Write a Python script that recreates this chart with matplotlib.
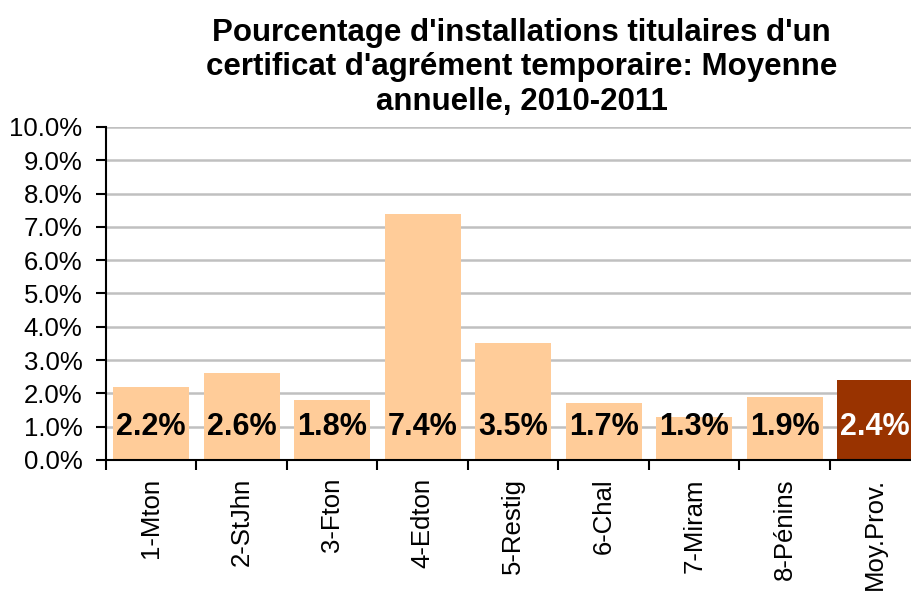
import matplotlib
matplotlib.use("Agg")
import matplotlib.pyplot as plt
import numpy as np

plt.rcParams['font.family'] = ['Liberation Sans', 'DejaVu Sans']

categories = ['1-Mton', '2-StJhn', '3-Fton', '4-Edton', '5-Restig', '6-Chal',
              '7-Miram', '8-Pénins', 'Moy.Prov.']
values = [2.2, 2.6, 1.8, 7.4, 3.5, 1.7, 1.3, 1.9, 2.4]
colors = ['#FFCC99'] * 8 + ['#993300']
label_colors = ['black'] * 8 + ['white']

fig = plt.figure(figsize=(9.12, 5.95), dpi=100)
ax = fig.add_axes([0.1162, 0.2269, 0.893, 0.5597])

x = np.arange(len(categories))
ax.bar(x, values, width=0.84, color=colors, zorder=2)

for xi, v, c in zip(x, values, label_colors):
    ax.text(xi, 1.0, f'{v:.1f}%', ha='center', va='center', fontsize=22,
            fontweight='bold', color=c, zorder=3)

ax.set_xlim(-0.5, len(categories) - 0.5)
ax.set_ylim(0, 10)
ax.set_yticks(np.arange(0, 10.5, 1))
ax.set_yticklabels([f'{t:.1f}%' for t in np.arange(0, 10.5, 1)], fontsize=18.5)
ax.yaxis.grid(True, color='#C0C0C0', linewidth=1.8, zorder=0)
ax.set_axisbelow(True)

ax.set_xticks(x)
ax.set_xticklabels(categories, rotation=90, fontsize=18.5)
ax.tick_params(axis='x', which='major', length=0, pad=13)
ax.set_xticks(np.arange(-0.5, len(categories), 1), minor=True)
ax.tick_params(axis='x', which='minor', length=7, width=1.5, direction='out')
ax.tick_params(axis='y', length=7, width=1.5, direction='out', pad=10)

for s in ['top', 'right']:
    ax.spines[s].set_visible(False)
for s in ['left', 'bottom']:
    ax.spines[s].set_linewidth(1.5)

fig.text(0.572, 0.97, "Pourcentage d'installations titulaires d'un\n"
         "certificat d'agrément temporaire: Moyenne\nannuelle, 2010-2011",
         ha='center', va='top', fontsize=22.5, fontweight='bold', linespacing=1.2)

fig.savefig('out.png', dpi=100)
